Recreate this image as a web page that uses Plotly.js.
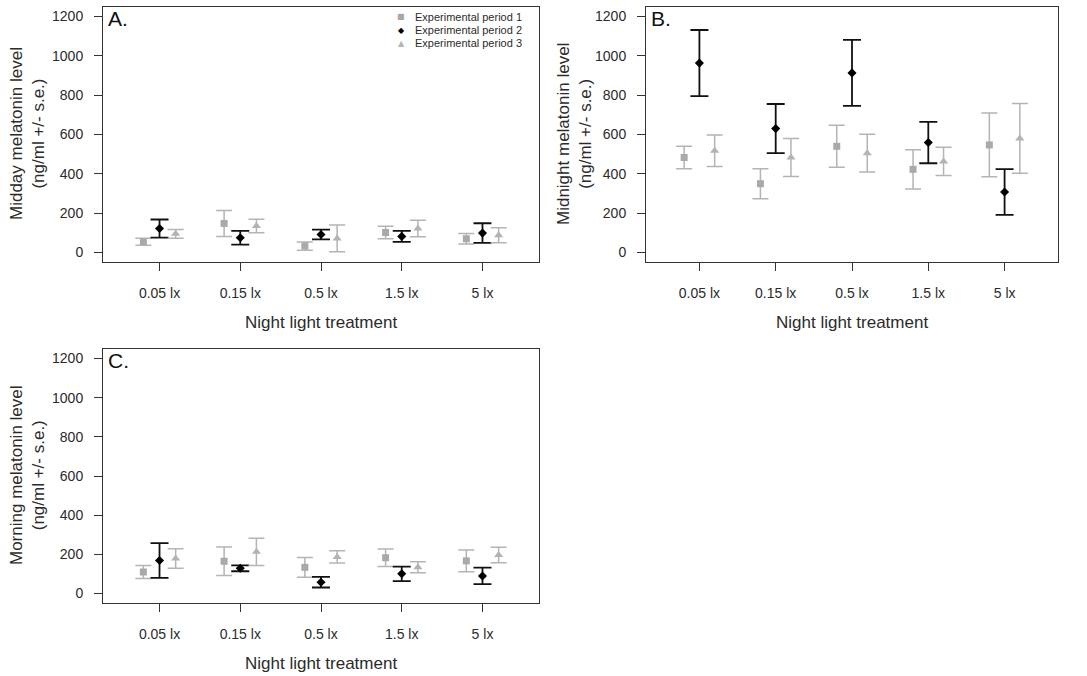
<!DOCTYPE html>
<html>
<head>
<meta charset="utf-8">
<script src="https://cdn.plot.ly/plotly-3.0.1.min.js"></script>
<style>
  html, body { margin: 0; padding: 0; background: #fff; }
  #chart { width: 1087px; height: 676px; }
</style>
</head>
<body>
<div id="chart"></div>
<script>
// Night light treatments (x categories)
const treatments = ['0.05 lx', '0.15 lx', '0.5 lx', '1.5 lx', '5 lx'];
const periodNames = ['Experimental period 1', 'Experimental period 2', 'Experimental period 3'];
const yTicks = [0, 200, 400, 600, 800, 1000, 1200];

// A. Midday melatonin (ng/ml), mean and s.e.
const middayP1 = [55, 148, 33, 102, 70];
const middayP1SE = [18, 66, 21, 32, 27];
const middayP2 = [122, 75, 92, 82, 99];
const middayP2SE = [46, 35, 25, 28, 50];
const middayP3 = [95, 135, 72, 122, 88];
const middayP3SE = [22, 34, 68, 42, 38];

// B. Midnight melatonin (ng/ml), mean and s.e.
const midnightP1 = [483, 350, 540, 423, 547];
const midnightP1SE = [57, 76, 107, 100, 162];
const midnightP2 = [963, 630, 913, 559, 308];
const midnightP2SE = [168, 125, 168, 105, 116];
const midnightP3 = [517, 483, 505, 463, 580];
const midnightP3SE = [80, 97, 96, 72, 177];

// C. Morning melatonin (ng/ml), mean and s.e.
const morningP1 = [110, 165, 134, 183, 167];
const morningP1SE = [33, 73, 50, 45, 56];
const morningP2 = [169, 129, 58, 101, 90];
const morningP2SE = [89, 15, 27, 37, 42];
const morningP3 = [179, 213, 187, 134, 197];
const morningP3SE = [50, 70, 31, 28, 40];

const FONT = '"Liberation Sans", Arial, Helvetica, sans-serif';
const TEXT = '#2b2b2b';
const GREY_MARK = '#a9a9a9';
const GREY_BAR = '#b4b4b4';

// marker/error-bar style per period, and horizontal dodge within a category
const styles = [
  { dx: -0.2, symbol: 'square', size: 7, color: GREY_MARK, bar: GREY_BAR, thick: 1.5, cap: 8 },
  { dx: 0.0, symbol: 'diamond', size: 7, color: '#000000', bar: '#111111', thick: 1.8, cap: 9 },
  { dx: 0.2, symbol: 'triangle-up', size: 8, color: '#b3b3b3', bar: GREY_BAR, thick: 1.5, cap: 8 }
];

function panelTraces(series, xa, ya) {
  return series.map((s, k) => {
    const st = styles[k];
    return {
      type: 'scatter', mode: 'markers',
      name: periodNames[k], showlegend: false,
      x: s.mean.map((_, i) => i + 1 + st.dx),
      y: s.mean,
      xaxis: xa, yaxis: ya,
      marker: { symbol: st.symbol, size: st.size, color: st.color, line: { width: 0 } },
      error_y: { type: 'data', array: s.se, visible: true, color: st.bar, thickness: st.thick, width: st.cap },
      cliponaxis: false
    };
  });
}

const traces = [].concat(
  panelTraces([
    { mean: middayP1, se: middayP1SE },
    { mean: middayP2, se: middayP2SE },
    { mean: middayP3, se: middayP3SE }
  ], 'x', 'y'),
  panelTraces([
    { mean: midnightP1, se: midnightP1SE },
    { mean: midnightP2, se: midnightP2SE },
    { mean: midnightP3, se: midnightP3SE }
  ], 'x2', 'y2'),
  panelTraces([
    { mean: morningP1, se: morningP1SE },
    { mean: morningP2, se: morningP2SE },
    { mean: morningP3, se: morningP3SE }
  ], 'x3', 'y3')
);

const W = 1087, H = 676;
const px = v => v / W;          // horizontal pixel -> paper
const py = v => 1 - v / H;      // vertical pixel (from top) -> paper

function xAxis(domain, anchor) {
  return {
    domain: domain, anchor: anchor,
    range: [0.3, 5.7], fixedrange: true,
    tickmode: 'array', tickvals: treatments.map((_, i) => i + 1), ticktext: treatments,
    ticks: 'outside', ticklen: 8, tickwidth: 1, tickcolor: '#333',
    ticklabelstandoff: 10,
    showline: true, mirror: true, linecolor: '#333', linewidth: 1,
    showgrid: false, zeroline: false,
    tickfont: { family: FONT, size: 14, color: TEXT }
  };
}
function yAxis(domain, anchor) {
  return {
    domain: domain, anchor: anchor,
    range: [-48, 1248], fixedrange: true,
    tickmode: 'array', tickvals: yTicks, ticktext: yTicks.map(String),
    ticks: 'outside', ticklen: 8, tickwidth: 1, tickcolor: '#333',
    ticklabelstandoff: 8,
    showline: true, mirror: true, linecolor: '#333', linewidth: 1,
    showgrid: false, zeroline: false,
    tickfont: { family: FONT, size: 14, color: TEXT }
  };
}

const domA = [px(103), px(539)];
const domB = [px(646), px(1058)];
const domTop = [py(262), py(7)];
const domBottom = [py(603), py(349)];

function textNote(text, x, y, size, opts) {
  return Object.assign({
    xref: 'paper', yref: 'paper', x: x, y: y,
    text: text, showarrow: false,
    font: { family: FONT, size: size, color: TEXT },
    xanchor: 'center', yanchor: 'middle'
  }, opts || {});
}

const annotations = [
  // panel letters
  textNote('A.', px(106), py(18), 21, { xanchor: 'left', font: { family: FONT, size: 21, color: '#111' } }),
  textNote('B.', px(649), py(18), 21, { xanchor: 'left', font: { family: FONT, size: 21, color: '#111' } }),
  textNote('C.', px(106), py(360), 21, { xanchor: 'left', font: { family: FONT, size: 21, color: '#111' } }),
  // x-axis titles
  textNote('Night light treatment', px(321), py(322), 17),
  textNote('Night light treatment', px(852), py(322), 17),
  textNote('Night light treatment', px(321), py(663), 17),
  // y-axis titles
  textNote('Midday melatonin level<br>(ng/ml +/- s.e.)', px(27), py(134), 17, { textangle: -90 }),
  textNote('Midnight melatonin level<br>(ng/ml +/- s.e.)', px(574), py(134), 17, { textangle: -90 }),
  textNote('Morning melatonin level<br>(ng/ml +/- s.e.)', px(27), py(475), 17, { textangle: -90 })
];

// key for the three periods, top-right of panel A
const keyGlyphs = ['\u25A0', '\u25C6', '\u25B2'];
const keyColors = [GREY_MARK, '#000000', '#b3b3b3'];
const keyRows = [17, 30, 43];
periodNames.forEach((name, k) => {
  annotations.push(textNote(keyGlyphs[k], px(401), py(keyRows[k]), 8,
    { font: { family: '"DejaVu Sans", sans-serif', size: 8, color: keyColors[k] } }));
  annotations.push(textNote(name, px(413), py(keyRows[k]), 11, { xanchor: 'left' }));
});

const layout = {
  width: W, height: H,
  margin: { l: 0, r: 0, t: 0, b: 0 },
  paper_bgcolor: '#ffffff', plot_bgcolor: '#ffffff',
  showlegend: false,
  font: { family: FONT, color: TEXT },
  xaxis: xAxis(domA, 'y'),
  yaxis: yAxis(domTop, 'x'),
  xaxis2: xAxis(domB, 'y2'),
  yaxis2: yAxis(domTop, 'x2'),
  xaxis3: xAxis(domA, 'y3'),
  yaxis3: yAxis(domBottom, 'x3'),
  annotations: annotations
};

Plotly.newPlot('chart', traces, layout, { displayModeBar: false, staticPlot: true });
</script>
</body>
</html>
